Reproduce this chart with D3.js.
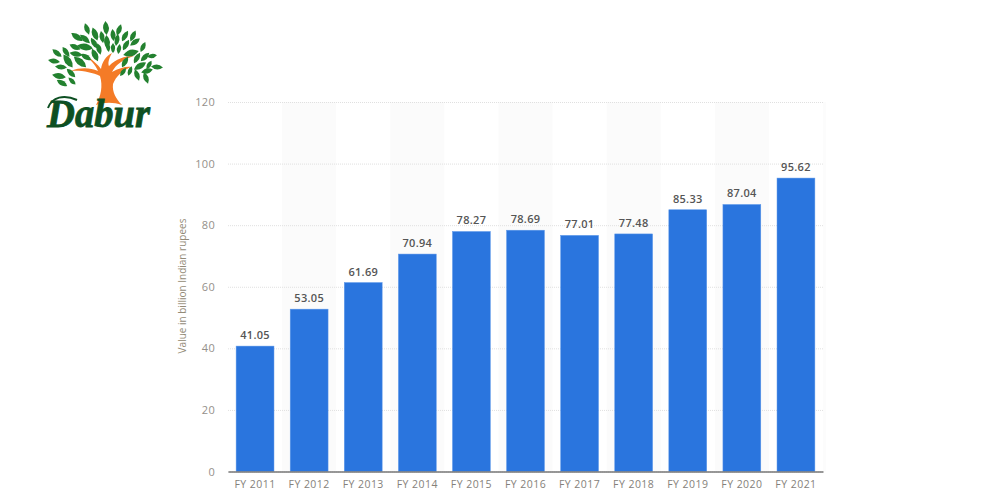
<!DOCTYPE html>
<html><head><meta charset="utf-8">
<script src="https://cdn.jsdelivr.net/npm/d3@7/dist/d3.min.js"></script>
<style>html,body{margin:0;background:#fff}svg{display:block}text{font-family:"Open Sans",sans-serif}</style>
</head><body><div id="c"></div>
<script>
const categories=["FY 2011","FY 2012","FY 2013","FY 2014","FY 2015","FY 2016","FY 2017","FY 2018","FY 2019","FY 2020","FY 2021"];
const values=[41.05,53.05,61.69,70.94,78.27,78.69,77.01,77.48,85.33,87.04,95.62];
const yTicks=[0,20,40,60,80,100,120];
const yTitle="Value in billion Indian rupees";
const brand="Dabur";
// logo leaves: centre x, centre y, angle, half length (logo artwork, not data)
const leaves=[[87,29,70,6],[106,28,85,7],[119,30,110,6],[95,34,70,7],[77,37,35,7],[113,35,85,6],[133,36,115,6],[125,36,120,6],[85,39,40,6.5],[102,37,80,6],[94,43,60,6],[107,42,85,7],[117,40,100,6],[135,42,145,6],[75,47,25,6],[85,47,10,8],[99,49,75,6],[108,47,80,5],[126,45,120,6],[143,47,115,5.5],[57,53,40,6],[66,52,55,6],[76,54,10,6.5],[86,57,30,6],[95,55,65,7],[113,48,90,5],[119,49,100,5],[131,53,165,8],[137,58,120,6],[145,57,135,6],[152,56,170,5],[54,61,10,6],[68,61,55,8],[80,62,40,8],[125,62,120,6],[140,66,150,7],[149,65,120,5],[157,67,5,6],[61,67,5,6],[71,73,45,6],[59,76,10,7],[62,83,30,6],[72,81,45,5],[123,72,125,5],[130,71,110,5],[137,75,70,6],[146,78,70,6],[147,71,165,6]];
const W=1000,H=500,m={l:228,r:177,t:102,b:28.5};
const svg=d3.select("#c").append("svg").attr("width",W).attr("height",H);
const x=d3.scaleBand().domain(categories).range([m.l,W-m.r]).paddingInner(0.3).paddingOuter(0.15);
const y=d3.scaleLinear().domain([0,120]).range([H-m.b,m.t]);
const step=x.step();
svg.append("g").selectAll("rect").data(categories.filter((d,i)=>i%2==1)).join("rect")
 .attr("x",d=>x(d)+x.bandwidth()/2-step/2).attr("width",step).attr("y",m.t).attr("height",H-m.b-m.t).attr("fill","#fbfbfb");
svg.append("rect").attr("x",W-m.r).attr("width",3).attr("y",m.t).attr("height",H-m.b-m.t).attr("fill","#fcfcfc");
const ya=svg.append("g").attr("transform",`translate(${m.l},0)`).call(d3.axisLeft(y).tickValues(yTicks).tickSize(-(W-m.l-m.r)).tickPadding(13));
ya.select(".domain").remove();
ya.selectAll(".tick line").attr("stroke","#e0e0e0").attr("stroke-dasharray","1 1");
ya.selectAll("text").attr("fill","#94908a").style("font-size","11px").style("letter-spacing","0.3px").style("font-family",'"Open Sans",sans-serif');
svg.append("g").selectAll("rect").data(categories).join("rect")
 .attr("x",d=>x(d)).attr("width",x.bandwidth())
 .attr("y",(d,i)=>y(values[i])+1).attr("height",(d,i)=>y(0)-y(values[i])-1)
 .attr("fill","#2a75de").attr("stroke","#5d97e9").attr("stroke-width",0.5);
svg.append("g").selectAll("text").data(categories).join("text")
 .attr("x",d=>x(d)+x.bandwidth()/2).attr("y",(d,i)=>y(values[i])-6).attr("text-anchor","middle")
 .attr("fill","#555").style("font-size","11px").style("font-weight",600).style("letter-spacing","0.3px").text((d,i)=>values[i].toFixed(2));
const xa=svg.append("g").attr("transform",`translate(0,${y(0)})`).call(d3.axisBottom(x).tickSize(0).tickPadding(9));
xa.select(".domain").attr("stroke","#777").attr("stroke-width",1.5);
xa.selectAll("text").attr("fill","#85817a").style("font-size","10.5px").style("letter-spacing","0.45px").style("font-family",'"Open Sans",sans-serif');
svg.append("text").attr("transform","translate(186,286) rotate(-90)").attr("text-anchor","middle")
 .attr("fill","#938b78").style("font-size","10px").text(yTitle);
const logo=svg.append("g");
logo.append("path").attr("fill","#f47b27").attr("d","M96 105 C101 96 103 86 100 76 C92 72 80 70 70 71 C82 67 90 68 98 71 C95 64 90 60 88 57 C93 60 98 65 101 69 C102 62 106 56 112 53 C108 60 108 64 109 66 C116 59 124 56 134 56 C124 59 116 64 112 72 C119 68 127 66 131 67 C122 71 116 76 113 84 C112 92 116 99 122 105 C113 102 105 102 96 105 Z");
logo.append("g").selectAll("path").data(leaves).join("path")
 .attr("transform",d=>`translate(${d[0]},${d[1]}) rotate(${d[2]})`)
 .attr("fill","#23812f")
 .attr("d",d=>`M${-d[3]} 0 Q0 ${-d[3]*0.85} ${d[3]} 0 Q0 ${d[3]*0.85} ${-d[3]} 0 Z`);
logo.append("text").attr("x",47).attr("y",127).attr("fill","#0d4f22").attr("stroke","#0d4f22").attr("stroke-width",0.8)
 .style("font-family",'"Liberation Serif",serif').style("font-style","italic").style("font-weight",700).style("font-size","40px")
 .attr("textLength",103).attr("lengthAdjust","spacingAndGlyphs").text(brand);
logo.append("path").attr("fill","none").attr("stroke","#0d4f22").attr("stroke-width",2).attr("d","M48 108 C52 97 64 94 77 100");
</script></body></html>
